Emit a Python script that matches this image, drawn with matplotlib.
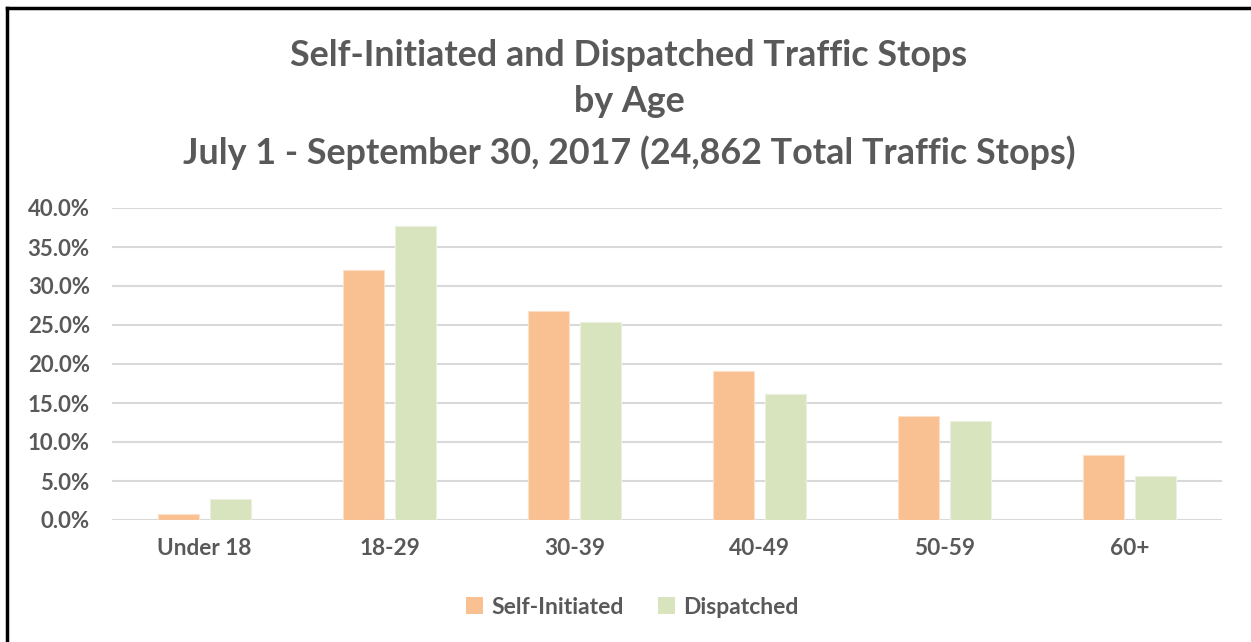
import matplotlib
matplotlib.use("Agg")
import matplotlib.pyplot as plt
import numpy as np
from matplotlib.lines import Line2D
from matplotlib.patches import Patch

categories = ["Under 18", "18-29", "30-39", "40-49", "50-59", "60+"]
self_initiated = [0.8, 32.0, 26.8, 19.1, 13.3, 8.3]
dispatched = [2.7, 37.7, 25.4, 16.1, 12.7, 5.6]
yticks = [0, 5, 10, 15, 20, 25, 30, 35, 40]

FONT = ["Lato", "DejaVu Sans"]
GRAY = "#595959"
C_SELF = "#F9C191"
C_DISP = "#D8E4BD"

fig = plt.figure(figsize=(12.51, 6.42), dpi=100)
ax = fig.add_axes([112/1251, 1-520/642, (1222-112)/1251, (520-208)/642])

x = np.arange(len(categories))
w = 0.224
off = 0.141
ax.bar(x - off, self_initiated, w, color=C_SELF, edgecolor="#FDE0C8", linewidth=0.8, zorder=3)
ax.bar(x + off, dispatched, w, color=C_DISP, edgecolor="#EBF1DE", linewidth=0.8, zorder=3)

ax.set_xlim(-0.5, len(categories) - 0.5)
ax.set_ylim(0, 40)
ax.set_yticks(yticks)
ax.set_yticklabels([f"{v:.1f}%" for v in yticks], fontsize=16, fontweight="bold",
                   color=GRAY, family=FONT)
ax.set_xticks(x)
ax.set_xticklabels(categories, fontsize=16.3, fontweight="bold", color=GRAY, family=FONT)
ax.tick_params(axis="both", length=0)
ax.tick_params(axis="y", pad=16)
ax.tick_params(axis="x", pad=13)
ax.grid(axis="y", color="#D9D9D9", linewidth=1.5, zorder=0)
for s in ax.spines.values():
    s.set_visible(False)

fig.text(629/1251, 1-55/642, "Self-Initiated and Dispatched Traffic Stops", ha="center", va="center",
         fontsize=25.8, fontweight="bold", color=GRAY, family=FONT)
fig.text(629/1251, 1-101/642, "by Age", ha="center", va="center",
         fontsize=25.8, fontweight="bold", color=GRAY, family=FONT)
fig.text(629/1251, 1-153/642, "July 1 - September 30, 2017 (24,862 Total Traffic Stops)", ha="center",
         va="center", fontsize=25.8, fontweight="bold", color=GRAY, family=FONT)

handles = [Patch(facecolor=C_SELF, edgecolor="none", label="Self-Initiated"),
           Patch(facecolor=C_DISP, edgecolor="none", label="Dispatched")]
leg = fig.legend(handles=handles, loc="center", bbox_to_anchor=(632/1251, 1-607/642), ncol=2,
                 frameon=False, handlelength=0.75, handleheight=0.75, handletextpad=0.35,
                 columnspacing=1.5, prop={"family": FONT, "size": 16.5, "weight": "bold"})
for t in leg.get_texts():
    t.set_color(GRAY)

# outer frame (top and left edges visible)
fig.add_artist(Line2D([7/1251, 1], [1-8/642, 1-8/642], transform=fig.transFigure, color="black", linewidth=2.5))
fig.add_artist(Line2D([7/1251, 7/1251], [0, 1-8/642], transform=fig.transFigure, color="black", linewidth=2.5))

fig.savefig("out.png", dpi=100, facecolor="white")
